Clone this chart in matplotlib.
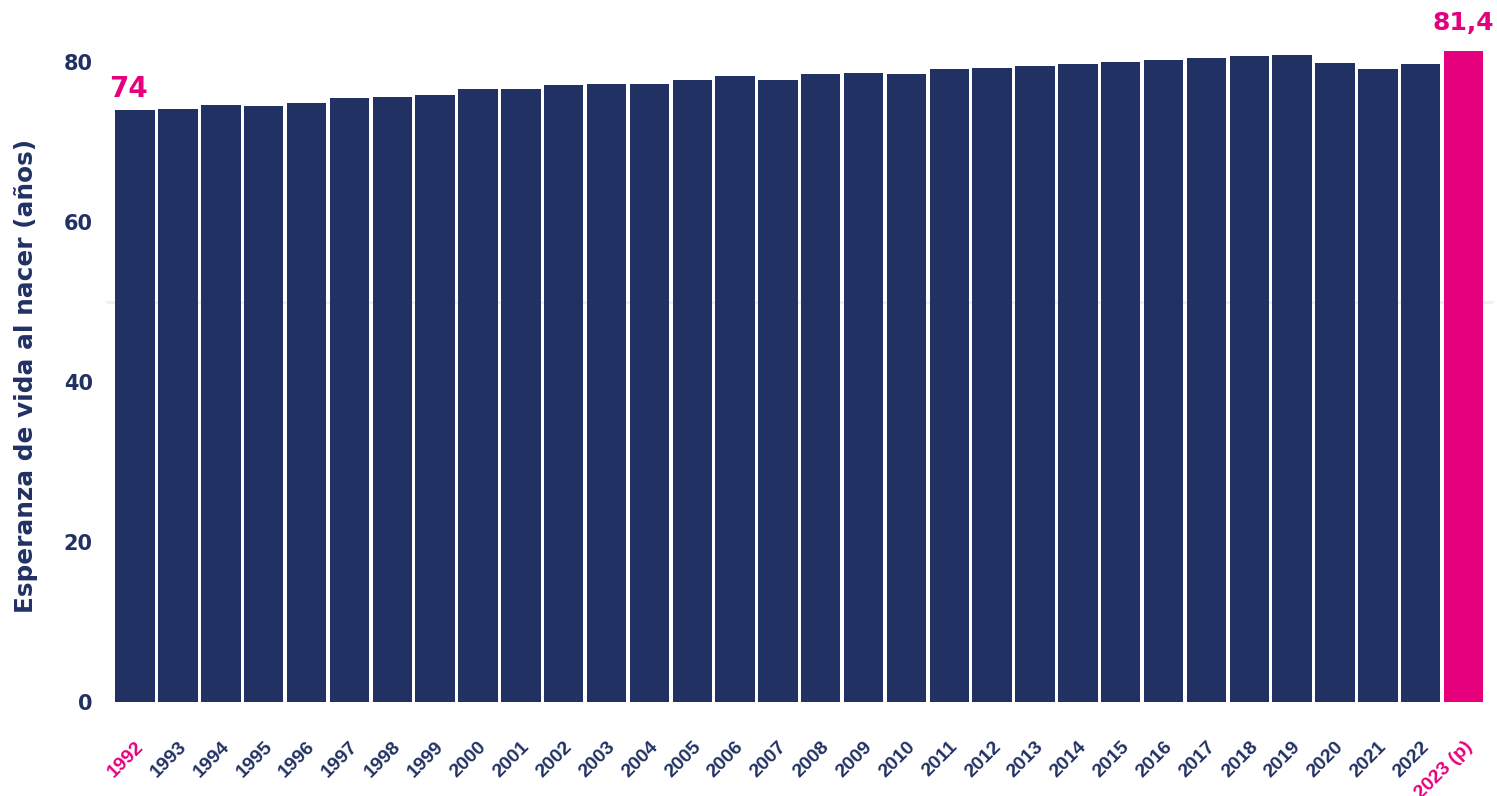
import matplotlib
matplotlib.use("Agg")
import matplotlib.pyplot as plt

years = ["1992", "1993", "1994", "1995", "1996", "1997", "1998", "1999", "2000", "2001",
         "2002", "2003", "2004", "2005", "2006", "2007", "2008", "2009", "2010", "2011",
         "2012", "2013", "2014", "2015", "2016", "2017", "2018", "2019", "2020", "2021",
         "2022", "2023 (p)"]
values = [74.0, 74.1, 74.6, 74.5, 74.9, 75.5, 75.6, 75.9, 76.6, 76.6,
          77.1, 77.25, 77.25, 77.75, 78.25, 77.75, 78.5, 78.6, 78.5, 79.1,
          79.25, 79.5, 79.75, 80.0, 80.25, 80.5, 80.75, 80.9, 79.9, 79.1,
          79.75, 81.4]
yticks = [0, 20, 40, 60, 80]
first_label = "74"
last_label = "81,4"
ylabel = "Esperanza de vida al nacer (años)"

NAVY = "#223164"
PINK = "#E6007E"

W, H = 1497, 796
fig = plt.figure(figsize=(W / 100, H / 100), dpi=100)
ax = fig.add_axes([115 / W, 94 / H, (1485 - 115) / W, (702 - 22) / H])

n = len(values)
colors = [NAVY] * (n - 1) + [PINK]
x = list(range(n))
ax.bar(x, values, width=0.92, color=colors, zorder=2)
ax.axhline(50, color="#eeeeee", lw=1.8, zorder=1, xmin=-0.006, xmax=1.005, clip_on=False)

ax.set_xlim(-0.47, n - 0.5)
ax.set_ylim(0, 85)

for s in ax.spines.values():
    s.set_visible(False)

ax.set_yticks(yticks)
ax.set_yticklabels([str(v) for v in yticks], fontsize=15, fontweight="bold", color=NAVY,
                   family="DejaVu Sans")
ax.tick_params(axis="y", length=0, pad=16)

ax.set_xticks(x)
ax.set_xticklabels(years, rotation=45, ha="right", rotation_mode="anchor",
                   fontsize=14, family="Liberation Sans", fontweight="bold", color=NAVY)
ax.tick_params(axis="x", length=0, pad=26)
labels = ax.get_xticklabels()
labels[0].set_color(PINK)
labels[-1].set_color(PINK)

ax.set_ylabel(ylabel, fontsize=17.8, fontweight="bold", color=NAVY, family="DejaVu Sans")
ax.yaxis.set_label_coords(-0.0565, 0.48)

ax.text(-0.15, values[0] + 0.9, first_label, ha="center", va="bottom", fontsize=20,
        fontweight="bold", color=PINK)
ax.text(n - 1, values[-1] + 2.0, last_label, ha="center", va="bottom", fontsize=18,
        fontweight="bold", color=PINK)

fig.savefig("out.png", dpi=100)
